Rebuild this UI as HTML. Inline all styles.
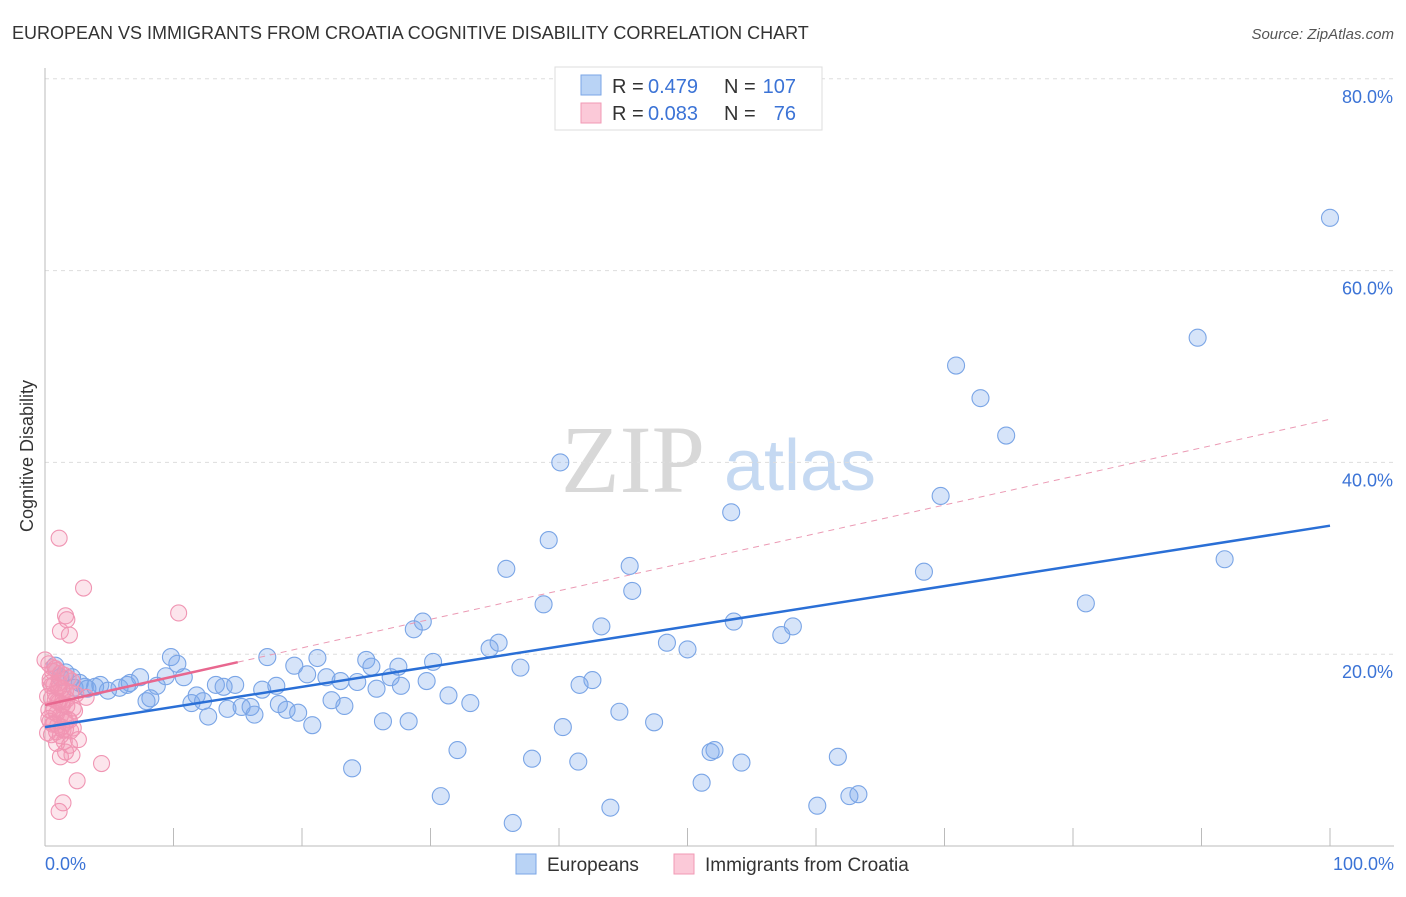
<!DOCTYPE html>
<html><head><meta charset="utf-8"><style>
body{margin:0;background:#fff;font-family:"Liberation Sans",sans-serif;}
svg text{font-family:"Liberation Sans",sans-serif;}
</style></head><body>
<svg id="c" width="1406" height="892" viewBox="0 0 1406 892">
<text x="12" y="39" font-size="18" fill="#333">EUROPEAN VS IMMIGRANTS FROM CROATIA COGNITIVE DISABILITY CORRELATION CHART</text>
<text x="1394" y="39" font-size="15" fill="#555" text-anchor="end" font-style="italic">Source: ZipAtlas.com</text>
<text x="33" y="456" font-size="18" fill="#333" text-anchor="middle" transform="rotate(-90 33 456)">Cognitive Disability</text>
<g>
<text x="633" y="492" font-size="96" fill="#d8d8d8" text-anchor="middle" font-family="Liberation Serif" style="font-family:'Liberation Serif',serif">ZIP</text>
<text x="800" y="490" font-size="72" fill="#c5d9f2" text-anchor="middle">atlas</text>
</g>
<g id="grid"></g>
<g id="marks"></g>
<g>
<rect x="555" y="67" width="267" height="63" fill="#fff" stroke="#ddd"/>
<rect x="581" y="75" width="20" height="20" fill="#b9d3f5" stroke="#7aa6e6"/>
<text x="612" y="93" font-size="20" fill="#333">R =</text>
<text x="648" y="93" font-size="20" fill="#3b73d6">0.479</text>
<text x="724" y="93" font-size="20" fill="#333">N =</text>
<text x="796" y="93" font-size="20" fill="#3b73d6" text-anchor="end">107</text>
<rect x="581" y="103" width="20" height="20" fill="#fbc9d8" stroke="#f199b5"/>
<text x="612" y="120" font-size="20" fill="#333">R =</text>
<text x="648" y="120" font-size="20" fill="#3b73d6">0.083</text>
<text x="724" y="120" font-size="20" fill="#333">N =</text>
<text x="796" y="120" font-size="20" fill="#3b73d6" text-anchor="end">76</text>
</g>
<g>
<rect x="516" y="854" width="20" height="20" fill="#b9d3f5" stroke="#7aa6e6"/>
<text x="547" y="871" font-size="19" fill="#333">Europeans</text>
<rect x="674" y="854" width="20" height="20" fill="#fbc9d8" stroke="#f199b5"/>
<text x="705" y="871" font-size="19" fill="#333">Immigrants from Croatia</text>
</g>
</svg>
<script>
const yTicks=[20,40,60,80];
const yTickLabels=["20.0%","40.0%","60.0%","80.0%"];
const xTicks=[0,10,20,30,40,50,60,70,80,90,100];
const blueX=[100,89.7,70.9,72.8,74.8,40.1,69.7,53.4,39.2,35.9,45.5,68.4,91.8,45.7,38.8,81.0,29.4,28.7,43.3,53.6,58.2,57.3,35.3,34.6,48.4,50.0,9.8,17.3,21.2,25.0,30.2,10.3,19.4,25.4,27.5,37.0,20.4,21.9,26.9,7.4,9.4,10.8,23.0,24.3,29.7,42.6,41.6,6.6,8.7,13.3,14.8,18.0,13.9,16.9,25.8,27.7,31.4,11.8,8.2,7.9,12.3,11.4,18.2,22.3,33.1,23.3,15.3,16.0,18.8,14.2,19.7,16.3,12.7,44.7,20.8,26.3,28.3,40.3,47.4,32.1,52.1,51.8,37.9,41.5,54.2,61.7,23.9,51.1,30.8,44.0,60.1,62.6,63.3,36.4,0.8,1.6,2.1,2.7,3.3,3.9,4.3,4.9,5.8,6.4,1.2,2.3,3.1];
const blueY=[65.5,53.0,50.1,46.7,42.8,40.0,36.5,34.8,31.9,28.9,29.2,28.6,29.9,26.6,25.2,25.3,23.4,22.6,22.9,23.4,22.9,22.0,21.2,20.6,21.2,20.5,19.7,19.7,19.6,19.4,19.2,19.0,18.8,18.7,18.7,18.6,17.9,17.6,17.6,17.6,17.7,17.6,17.2,17.1,17.2,17.3,16.8,17.0,16.7,16.8,16.8,16.7,16.6,16.3,16.4,16.7,15.7,15.7,15.4,15.1,15.1,14.9,14.8,15.2,14.9,14.6,14.5,14.5,14.2,14.3,13.9,13.7,13.5,14.0,12.6,13.0,13.0,12.4,12.9,10.0,10.0,9.8,9.1,8.8,8.7,9.3,8.1,6.6,5.2,4.0,4.2,5.2,5.4,2.4,18.8,18.1,17.6,17.0,16.4,16.6,16.8,16.2,16.5,16.8,17.6,16.5,16.6];
const pinkX=[1.1,3.0,10.4,1.6,1.7,1.2,1.9,0,2.6,1.9,1.6,2.1,1.2,4.4,2.5,1.4,1.1,0.3,0.6,0.9,1.2,1.5,1.8,2.1,0.4,0.7,1.0,1.3,1.6,2.0,2.4,0.2,0.5,0.8,1.1,1.4,1.7,2.2,0.3,0.6,0.9,1.2,1.5,1.8,0.4,0.7,1.0,1.3,1.6,2.0,0.2,0.5,0.8,1.1,1.4,1.7,2.3,0.3,0.6,0.9,1.2,1.5,0.4,0.8,1.3,1.9,0.5,1.0,1.6,2.2,0.6,1.1,0.7,1.4,3.2,0.9];
const pinkY=[32.1,26.9,24.3,24.0,23.6,22.4,22.0,19.4,11.1,10.5,9.8,9.5,9.3,8.6,6.8,4.5,3.6,19.0,18.6,18.3,18.0,17.8,17.5,17.2,17.0,16.8,16.6,16.4,16.2,16.0,15.8,15.6,15.4,15.2,15.0,14.8,14.6,14.4,14.2,14.0,13.8,13.6,13.4,13.2,13.0,12.8,12.6,12.4,12.2,12.0,11.8,11.6,18.5,17.0,16.1,15.3,14.1,13.3,12.7,11.9,11.5,10.9,17.4,15.9,14.7,13.1,16.7,15.1,12.9,12.3,18.2,16.5,14.3,12.1,15.5,10.7];
const blueTrend=[12.4,33.4];
const pinkTrend=[14.7,44.5];
const pinkSolidEnd=15;

const NS="http://www.w3.org/2000/svg";
const X=v=>45+v*12.85;
const Y=v=>846-v*9.59;
function mk(tag,attrs,parent){const e=document.createElementNS(NS,tag);for(const k in attrs)e.setAttribute(k,attrs[k]);parent.appendChild(e);return e;}
const grid=document.getElementById('grid'),marks=document.getElementById('marks');
yTicks.forEach((t,i)=>{
 const l=mk('line',{x1:45,x2:1394,y1:Y(t),y2:Y(t),stroke:'#ddd','stroke-dasharray':'4 4'},grid);
 
 
 const tx=mk('text',{x:1393,y:Y(t)+24,'font-size':18,fill:'#3b73d6','text-anchor':'end'},grid);
 tx.textContent=yTickLabels[i];
 
 
});
const ax=mk('line',{x1:45,x2:1394,y1:846,y2:846,stroke:'#bbb'},grid);


const ay=mk('line',{x1:45,x2:45,y1:68,y2:846,stroke:'#bbb'},grid);


xTicks.forEach(t=>{
 const l=mk('line',{x1:X(t),x2:X(t),y1:828,y2:846,stroke:'#bbb'},grid);
 
 
});
[[0,'0.0%','start',45],[100,'100.0%','end',1394]].forEach(a=>{
 const tx=mk('text',{x:a[3],y:870,'font-size':18,fill:'#3b73d6','text-anchor':a[2]},grid);
 tx.textContent=a[1];
 
 
});
blueX.forEach((v,i)=>{
 const c=mk('circle',{cx:X(v),cy:Y(blueY[i]),r:8.5,fill:'rgba(120,165,235,0.3)',stroke:'#7aa5e6','stroke-width':1.1},marks);
 
 
});
pinkX.forEach((v,i)=>{
 const c=mk('circle',{cx:X(v),cy:Y(pinkY[i]),r:8,fill:'rgba(245,150,180,0.25)',stroke:'#f095b3','stroke-width':1.1},marks);
 
 
});
const pt=v=>pinkTrend[0]+(pinkTrend[1]-pinkTrend[0])*v/100;
const pd=mk('line',{x1:X(pinkSolidEnd),y1:Y(pt(pinkSolidEnd)),x2:X(100),y2:Y(pinkTrend[1]),stroke:'#eb9ab4','stroke-width':1,'stroke-dasharray':'6 5'},marks);


const ps=mk('line',{x1:X(0),y1:Y(pinkTrend[0]),x2:X(pinkSolidEnd),y2:Y(pt(pinkSolidEnd)),stroke:'#e8678f','stroke-width':2.5},marks);


const bl=mk('line',{x1:X(0),y1:Y(blueTrend[0]),x2:X(100),y2:Y(blueTrend[1]),stroke:'#2a6fd6','stroke-width':2.5},marks);


</script>
</body></html>
